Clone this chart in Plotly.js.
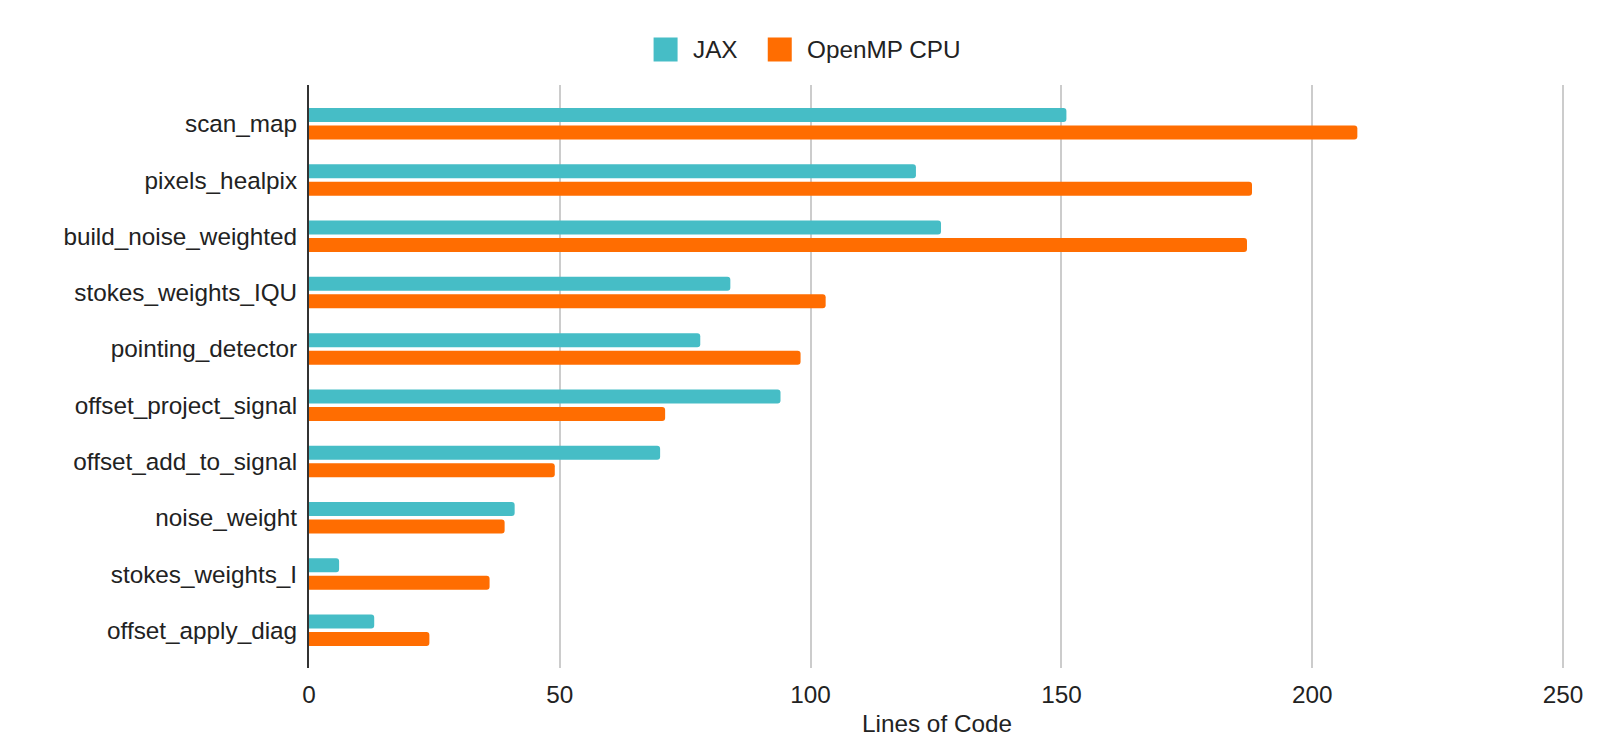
<!DOCTYPE html>
<html>
<head>
<meta charset="utf-8">
<script src="https://cdn.plot.ly/plotly-3.0.1.min.js"></script>
<style>html,body{margin:0;padding:0;background:#fff;}#chart{width:1612px;height:742px;}</style>
</head>
<body>
<div id="chart"></div>
<script>
// Data
const categories = ['scan_map','pixels_healpix','build_noise_weighted','stokes_weights_IQU','pointing_detector','offset_project_signal','offset_add_to_signal','noise_weight','stokes_weights_I','offset_apply_diag'];
const jaxValues = [151,121,126,84,78,94,70,41,6,13];
const openmpValues = [209,188,187,103,98,71,49,39,36,24];
const seriesNames = ['JAX','OpenMP CPU'];
const xTickValues = [0,50,100,150,200,250];
const xTitle = 'Lines of Code';

const colors = ['#46BDC6','#FF6D01'];
const FONT = 'Liberation Sans, Arial, sans-serif';
const FS = 24.3;

const traces = [
  {type:'bar', orientation:'h', name:seriesNames[0], y:categories, x:jaxValues,
   marker:{color:colors[0], cornerradius:3}, showlegend:false, hoverinfo:'x+y'},
  {type:'bar', orientation:'h', name:seriesNames[1], y:categories, x:openmpValues,
   marker:{color:colors[1], cornerradius:3}, showlegend:false, hoverinfo:'x+y'}
];

// Manual legend (large rounded swatches) positioned in paper coordinates
const legendY = 1.0609;
const legendItems = [
  {sw:0.2839, tx:0.3045},
  {sw:0.3748, tx:0.3950}
];
const shapes = [];
const annotations = [];
legendItems.forEach((it,i)=>{
  shapes.push({type:'rect', xref:'paper', yref:'paper', xsizemode:'pixel', ysizemode:'pixel',
    xanchor:it.sw, yanchor:legendY, x0:-12, x1:12, y0:-12, y1:12,
    fillcolor:colors[i], line:{width:0}});
  annotations.push({xref:'paper', yref:'paper', x:it.tx, y:legendY, xanchor:'left', yanchor:'middle',
    text:seriesNames[i], showarrow:false, font:{family:FONT, size:FS, color:'#222222'}});
});

const layout = {
  width:1612, height:742,
  margin:{l:309, r:47, t:85, b:74},
  paper_bgcolor:'#ffffff', plot_bgcolor:'#ffffff',
  font:{family:FONT, size:FS, color:'#222222'},
  barmode:'group', bargap:0.378, bargroupgap:0.2,
  showlegend:false,
  xaxis:{range:[0,250.4], tickvals:xTickValues, ticktext:xTickValues.map(String),
    showgrid:true, gridcolor:'#cccccc', gridwidth:1.5, zeroline:false, showline:false,
    ticks:'', ticklabelstandoff:10,
    title:{text:xTitle, font:{family:FONT, size:FS, color:'#222222'}, standoff:7},
    tickfont:{family:FONT, size:FS, color:'#222222'}},
  yaxis:{type:'category', categoryorder:'array', categoryarray:categories,
    range:[9.67,-0.689], showgrid:false, zeroline:false,
    showline:true, linecolor:'#333333', linewidth:2, ticks:'', ticklabelstandoff:5,
    tickfont:{family:FONT, size:FS, color:'#222222'}},
  shapes:shapes, annotations:annotations
};

Plotly.newPlot('chart', traces, layout, {displayModeBar:false, responsive:false});
</script>
</body>
</html>
